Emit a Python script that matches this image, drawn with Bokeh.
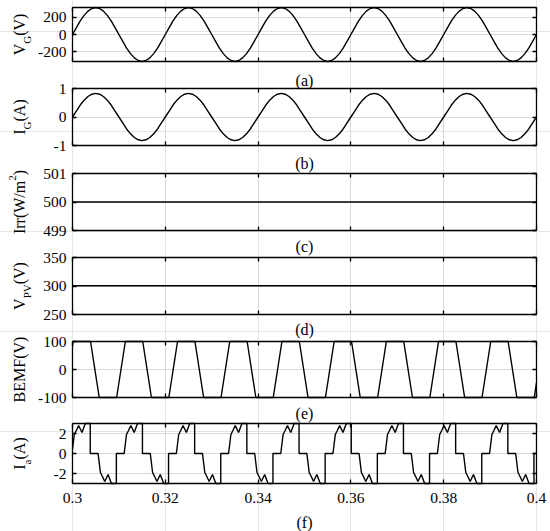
import math
import numpy as np
from bokeh.plotting import figure
from bokeh.models import Range1d, LinearAxis, FixedTicker, Label, Grid
from bokeh.embed import file_html
from bokeh.resources import INLINE

# ---------------- data ----------------
X_TICKS = [0.30, 0.32, 0.34, 0.36, 0.38, 0.40]
X_TICK_LABELS = ["0.3", "0.32", "0.34", "0.36", "0.38", "0.4"]

# grid voltage / current: one 50 Hz cycle, sampled every 15 degrees
GRID_PERIOD = 0.02
GRID_START = 0.30
GRID_PHASE = [0, 15, 30, 45, 60, 75, 90, 105, 120, 135, 150, 165, 180,
              195, 210, 225, 240, 255, 270, 285, 300, 315, 330, 345, 360]
VG_CYCLE = [0, 80, 156, 220, 269, 300, 311, 300, 269, 220, 156, 80, 0,
            -80, -156, -220, -269, -300, -311, -300, -269, -220, -156, -80, 0]
IG_CYCLE = [0, 0.21, 0.42, 0.59, 0.72, 0.80, 0.83, 0.80, 0.72, 0.59, 0.42, 0.21, 0,
            -0.21, -0.42, -0.59, -0.72, -0.80, -0.83, -0.80, -0.72, -0.59, -0.42, -0.21, 0]

IRR_T = [0.30, 0.40]
IRR = [500, 500]

VPV_T = [0.30, 0.40]
VPV = [300.5, 300.5]

# motor: one electrical cycle (degrees from BEMF rising zero crossing)
MOTOR_PERIOD = 0.01125
MOTOR_T0 = 0.31045
BEMF_PHASE = [-30, 30, 150, 210, 330]
BEMF_CYCLE = [-100, 100, 100, -100, -100]
IA_PHASE = [-30, 22, 38, 52, 68, 91, 114, 148, 148, 202, 218, 232, 248, 271, 294, 328, 328]
IA_CYCLE = [0, 0, 1.9, 2.3, 2.8, 2.1, 3.0, 3.0, 0, 0, -1.9, -2.3, -2.8, -2.1, -3.0, -3.0, 0]

Y_TICKS_A = [-200, 0, 200]
Y_LABELS_A = ["-200", "0", "200"]
Y_TICKS_B = [-1, 0, 1]
Y_LABELS_B = ["-1", "0", "1"]
Y_TICKS_C = [499, 500, 501]
Y_LABELS_C = ["499", "500", "501"]
Y_TICKS_D = [250, 300, 350]
Y_LABELS_D = ["250", "300", "350"]
Y_TICKS_E = [-100, 0, 100]
Y_LABELS_E = ["-100", "0", "100"]
Y_TICKS_F = [-2, 0, 2]
Y_LABELS_F = ["-2", "0", "2"]

X_MIN, X_MAX = 0.30, 0.40


def tile(t_start, period, phases, values, k_from, k_to):
    ts, vs = [], []
    for k in range(k_from, k_to):
        for ph, v in zip(phases, values):
            ts.append(t_start + (k + ph / 360.0) * period)
            vs.append(v)
    return ts, vs


def clip_to_window(ts, vs):
    """Cut a piecewise-linear trace at the box edges."""
    ts = np.asarray(ts, float)
    vs = np.asarray(vs, float)
    inside = (ts > X_MIN) & (ts < X_MAX)
    t_out = np.concatenate([[X_MIN], ts[inside], [X_MAX]])
    v_out = np.concatenate([[np.interp(X_MIN, ts, vs)], vs[inside], [np.interp(X_MAX, ts, vs)]])
    return list(t_out), list(v_out)


vg_t, vg = tile(GRID_START, GRID_PERIOD, GRID_PHASE, VG_CYCLE, 0, 5)
ig_t, ig = tile(GRID_START, GRID_PERIOD, GRID_PHASE, IG_CYCLE, 0, 5)
bemf_t, bemf = clip_to_window(*tile(MOTOR_T0, MOTOR_PERIOD, BEMF_PHASE, BEMF_CYCLE, -2, 9))
ia_t, ia = clip_to_window(*tile(MOTOR_T0, MOTOR_PERIOD, IA_PHASE, IA_CYCLE, -2, 9))

# ---------------- layout (page pixels) ----------------
FONT = "Liberation Serif"
W, H = 550, 531
BOX_LEFT, BOX_RIGHT = 72, 536
LABEL_X = 18.5
TIMES_W = {" ": 0.25, "(": 0.333, ")": 0.333, "/": 0.278, "A": 0.722, "B": 0.667,
           "E": 0.611, "F": 0.556, "G": 0.722, "I": 0.333, "M": 0.889, "P": 0.556,
           "V": 0.722, "W": 0.944, "a": 0.444, "m": 0.778, "r": 0.333}


def tw(s, size):
    return sum(TIMES_W.get(c, 0.5) for c in s) * size


XS = (X_MAX - X_MIN) / (BOX_RIGHT - BOX_LEFT)   # data per px


def x_of(px):
    return X_MIN + (px - BOX_LEFT) * XS


def y_of(py):  # default range: pixels up from canvas bottom
    return H - py


p = figure(width=W, height=H,
           x_range=Range1d(x_of(0), x_of(W)),
           y_range=Range1d(0, H),
           x_axis_location=None, y_axis_location=None,
           output_backend="svg", toolbar_location=None, title=None,
           min_border=0, min_border_left=0, min_border_right=0,
           min_border_top=0, min_border_bottom=0)
p.outline_line_color = None
p.background_fill_color = "white"
p.border_fill_color = "white"

panels = [
    dict(name="a", t=vg_t, v=vg, lo=-311, hi=311, ticks=Y_TICKS_A, tl=Y_LABELS_A, ft=7, fb=61,
         label=[("V", 16, 0), ("G", 11, 8), ("(V)", 16, 0)], cap="(a)", capy=79.5),
    dict(name="b", t=ig_t, v=ig, lo=-1, hi=1, ticks=Y_TICKS_B, tl=Y_LABELS_B, ft=88, fb=145,
         label=[("I", 16, 0), ("G", 11, 8), ("(A)", 16, 0)], cap="(b)", capy=162.5),
    dict(name="c", t=IRR_T, v=IRR, lo=499, hi=501, ticks=Y_TICKS_C, tl=Y_LABELS_C, ft=173, fb=230,
         label=[("Irr(W/m", 16, 0), ("2", 11, -7), (")", 16, 0)], cap="(c)", capy=245.5),
    dict(name="d", t=VPV_T, v=VPV, lo=250, hi=350, ticks=Y_TICKS_D, tl=Y_LABELS_D, ft=257, fb=314,
         label=[("V", 16, 0), ("PV", 11, 8), ("(V)", 16, 0)], cap="(d)", capy=328.5),
    dict(name="e", t=bemf_t, v=bemf, lo=-100, hi=100, ticks=Y_TICKS_E, tl=Y_LABELS_E, ft=341, fb=397,
         label=[("BEMF(V)", 16, 0)], cap="(e)", capy=412.5),
    dict(name="f", t=ia_t, v=ia, lo=-3, hi=3, ticks=Y_TICKS_F, tl=Y_LABELS_F, ft=423, fb=483,
         label=[("I", 16, 0), ("a", 11, 8), ("(A)", 16, 0)], cap="(f)", capy=521.5),
]

HAS_CROSS = "cross_bounds" in Grid.properties()


def style_axis(ax, ticks, labels=None, standoff=6):
    ax.ticker = FixedTicker(ticks=ticks)
    ax.major_tick_in = 4
    ax.major_tick_out = 0
    ax.minor_tick_in = 0
    ax.minor_tick_out = 0
    ax.axis_line_color = "black"
    ax.axis_line_width = 1.3
    ax.major_tick_line_color = "black"
    ax.major_tick_line_width = 1.3
    ax.major_label_text_font = FONT
    ax.major_label_text_font_size = "15.5px"
    ax.major_label_standoff = standoff
    if labels is not None:
        ax.major_label_overrides = dict(zip(ticks, labels))
        ax.major_label_text_color = "black"
    else:
        ax.major_label_text_color = None


n = len(panels)
for i, pd in enumerate(panels):
    name, lo, hi = pd["name"], pd["lo"], pd["hi"]
    u = (hi - lo) / (pd["fb"] - pd["ft"])
    p.extra_y_ranges[name] = Range1d(lo - (H - pd["fb"]) * u, hi + pd["ft"] * u)

    # grid lines inside the box
    gx = Grid(dimension=0, ticker=FixedTicker(ticks=X_TICKS), y_range_name=name,
              grid_line_color="#d9d9d9", grid_line_width=1)
    gy = Grid(dimension=1, ticker=FixedTicker(ticks=pd["ticks"]), y_range_name=name,
              grid_line_color="#d9d9d9", grid_line_width=1)
    if HAS_CROSS:
        gx.cross_bounds = (lo, hi)
        gy.cross_bounds = (X_MIN, X_MAX)
        p.add_layout(gx)
        p.add_layout(gy)

    # box: four axes fixed on the box edges, ticks pointing in
    left = LinearAxis(y_range_name=name, fixed_location=X_MIN, bounds=(lo, hi))
    style_axis(left, pd["ticks"], pd["tl"], standoff=6)
    p.add_layout(left, "left")
    right = LinearAxis(y_range_name=name, fixed_location=X_MAX, bounds=(lo, hi))
    style_axis(right, pd["ticks"])
    p.add_layout(right, "right")
    bottom = LinearAxis(y_range_name=name, fixed_location=lo, bounds=(X_MIN, X_MAX))
    style_axis(bottom, X_TICKS, X_TICK_LABELS if i == n - 1 else None, standoff=9)
    p.add_layout(bottom, "below")
    top = LinearAxis(y_range_name=name, fixed_location=hi, bounds=(X_MIN, X_MAX))
    style_axis(top, X_TICKS)
    p.add_layout(top, "above")

    p.line(pd["t"], pd["v"], y_range_name=name, line_color="black", line_width=1.4)

    # rotated y-axis label, built from pieces (sub/superscripts)
    total = sum(tw(t, s) for t, s, _ in pd["label"])
    ycur = (pd["ft"] + pd["fb"]) / 2 + total / 2
    for t, s, sh in pd["label"]:
        p.add_layout(Label(x=x_of(LABEL_X + sh), y=y_of(ycur), text=t, angle=math.pi / 2,
                           text_align="left", text_baseline="alphabetic",
                           text_font=FONT, text_font_size=f"{s}px", text_color="black"))
        ycur -= tw(t, s)

    # panel caption
    p.add_layout(Label(x=(X_MIN + X_MAX) / 2, y=y_of(pd["capy"]), text=pd["cap"],
                       text_align="center", text_baseline="alphabetic", text_font=FONT,
                       text_font_size="16px", text_color="black"))

open("out.html", "w").write(file_html(p, INLINE))
